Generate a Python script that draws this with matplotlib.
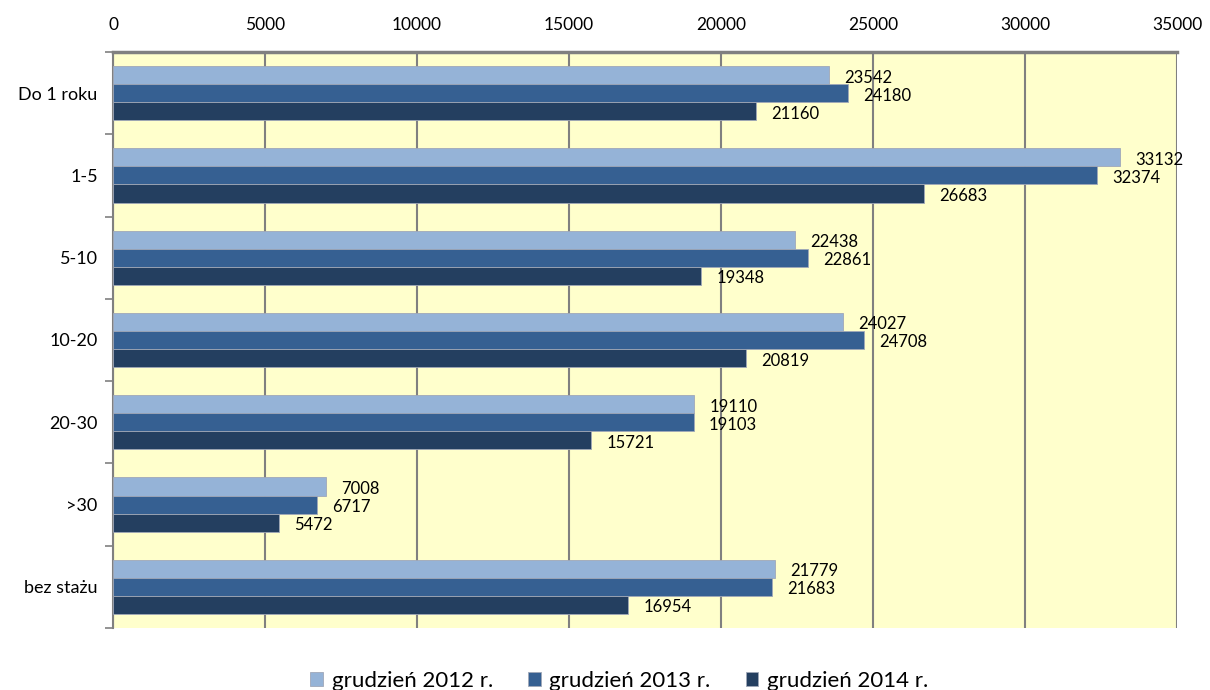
import numpy as np
import matplotlib
matplotlib.use("Agg")
import matplotlib.pyplot as plt
from matplotlib.ticker import FixedLocator

categories = ["Do 1 roku", "1-5", "5-10", "10-20", "20-30", ">30", "bez stażu"]
series_names = ["grudzień 2012 r.", "grudzień 2013 r.", "grudzień 2014 r."]
v2012 = [23542, 33132, 22438, 24027, 19110, 7008, 21779]
v2013 = [24180, 32374, 22861, 24708, 19103, 6717, 21683]
v2014 = [21160, 26683, 19348, 20819, 15721, 5472, 16954]
colors = ["#95B3D7", "#366092", "#243F60"]

plt.rcParams["font.family"] = ["Lato", "DejaVu Sans"]

fig = plt.figure(figsize=(12.1, 6.9), dpi=100)
ax = fig.add_axes([0.0934, 0.0899, 0.8793, 0.8347])
ax.set_facecolor("#FFFFCC")

y = np.arange(len(categories))
h = 0.22
for i, (vals, c, name) in enumerate(zip([v2012, v2013, v2014], colors, series_names)):
    pos = y + (i - 1) * h
    ax.barh(pos, vals, height=h, color=c, edgecolor="#A0A8B8", linewidth=0.6,
            label=name, zorder=3)
    for p, v in zip(pos, vals):
        ax.text(v + 500, p + 0.03, str(v), va="center", ha="left", fontsize=12,
                color="black", zorder=4)

ax.set_xlim(0, 35000)
ax.set_ylim(len(categories) - 0.5, -0.5)
ax.xaxis.tick_top()
ax.set_xticks(np.arange(0, 35001, 5000))
ax.tick_params(axis="x", length=0, labelsize=12.5, pad=14)
ax.grid(axis="x", color="#808080", linewidth=1.5, zorder=1)

ax.set_yticks(y)
ax.set_yticklabels(categories, fontsize=13)
ax.yaxis.set_minor_locator(FixedLocator(np.arange(-0.5, len(categories), 1)))
ax.tick_params(axis="y", which="major", length=0, pad=11)
ax.tick_params(axis="y", which="minor", length=6, color="#808080", width=1.2)

for s in ["bottom", "right"]:
    ax.spines[s].set_visible(False)
ax.spines["top"].set_color("#808080")
ax.spines["top"].set_linewidth(2.5)
ax.spines["left"].set_color("#808080")
ax.spines["left"].set_linewidth(1.5)

fig.legend(*ax.get_legend_handles_labels(), loc="center",
           bbox_to_anchor=(0.512, 0.013), bbox_transform=fig.transFigure,
           ncol=3, frameon=False, fontsize=16, handlelength=0.55,
           handleheight=0.6, handletextpad=0.4, columnspacing=1.6,
           borderpad=0)

fig.savefig("out.png", dpi=100)
